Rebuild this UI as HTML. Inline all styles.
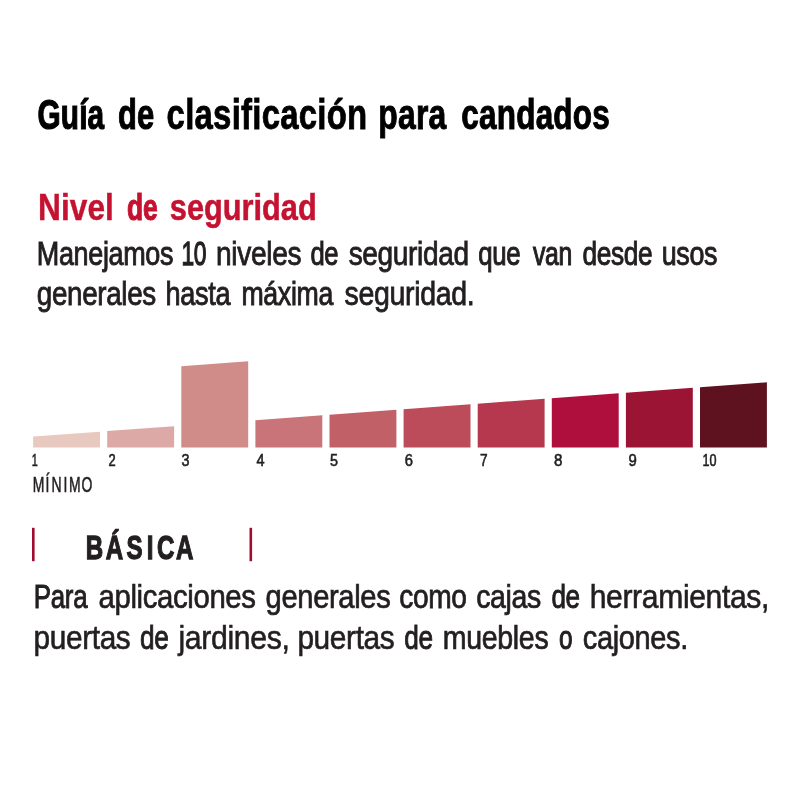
<!DOCTYPE html>
<html lang="es">
<head>
<meta charset="utf-8">
<title>Guía de clasificación para candados</title>
<style>
html,body{margin:0;padding:0;background:#fff;}
body{width:800px;height:800px;overflow:hidden;}
svg{display:block;}
text{font-family:"Liberation Sans",sans-serif;}
.title{letter-spacing:0.3px;font-weight:bold;font-size:42px;fill:#000;stroke:#000;}
.head{letter-spacing:0.0px;font-weight:bold;font-size:37.5px;fill:#C41230;stroke:#C41230;}
.body{letter-spacing:-0.4px;font-size:33px;fill:#231f20;stroke:#231f20;}
.num{font-size:16px;fill:#231f20;stroke:#231f20;stroke-width:0.6px;}
.min{font-size:22.5px;fill:#231f20;stroke:#231f20;stroke-width:0.5px;}
.lvl{font-weight:bold;font-size:34px;fill:#231f20;stroke:#231f20;stroke-width:1.1px;}
.para{letter-spacing:-0.4px;font-size:33px;fill:#231f20;stroke:#231f20;}
</style>
</head>
<body>
<svg width="800" height="800" viewBox="0 0 800 800">
<rect width="800" height="800" fill="#ffffff"/>
<g>
<polygon points="33.1,447.4 33.1,436.60 100.0,431.65 100.0,447.4" fill="#E8C9C0"/>
<polygon points="107.2,447.4 107.2,431.12 174.1,426.17 174.1,447.4" fill="#DDA9A6"/>
<polygon points="181.3,447.4 181.3,366.13 248.2,361.18 248.2,447.4" fill="#D08C88"/>
<polygon points="255.4,447.4 255.4,420.15 322.3,415.20 322.3,447.4" fill="#C87478"/>
<polygon points="329.5,447.4 329.5,414.67 396.4,409.72 396.4,447.4" fill="#C26068"/>
<polygon points="403.6,447.4 403.6,409.18 470.5,404.23 470.5,447.4" fill="#BC4C5A"/>
<polygon points="477.7,447.4 477.7,403.70 544.6,398.75 544.6,447.4" fill="#B5384E"/>
<polygon points="551.8,447.4 551.8,398.22 618.7,393.27 618.7,447.4" fill="#AE0F3D"/>
<polygon points="625.9,447.4 625.9,392.73 692.8,387.78 692.8,447.4" fill="#9B1434"/>
<polygon points="700.0,447.4 700.0,387.25 766.9,382.30 766.9,447.4" fill="#5E1220"/>
</g>
<g>
<text class="num" x="31.73" y="466.3" textLength="6.00" lengthAdjust="spacingAndGlyphs">1</text>
<text class="num" x="108.40" y="466.3" textLength="7.20" lengthAdjust="spacingAndGlyphs">2</text>
<text class="num" x="181.45" y="466.3" textLength="7.98" lengthAdjust="spacingAndGlyphs">3</text>
<text class="num" x="256.57" y="466.3" textLength="8.06" lengthAdjust="spacingAndGlyphs">4</text>
<text class="num" x="329.93" y="466.3" textLength="7.98" lengthAdjust="spacingAndGlyphs">5</text>
<text class="num" x="404.65" y="466.3" textLength="8.20" lengthAdjust="spacingAndGlyphs">6</text>
<text class="num" x="480.10" y="466.3" textLength="7.59" lengthAdjust="spacingAndGlyphs">7</text>
<text class="num" x="553.94" y="466.3" textLength="8.42" lengthAdjust="spacingAndGlyphs">8</text>
<text class="num" x="628.60" y="466.3" textLength="8.31" lengthAdjust="spacingAndGlyphs">9</text>
<text class="num" x="702.44" y="466.3" textLength="14.00" lengthAdjust="spacingAndGlyphs">10</text>
</g>
<g transform="scale(0.62 1)"><text class="min" x="52.73 73.53 83.00 102.28 111.19 131.34" y="492.5" vector-effect="non-scaling-stroke">MÍNIMO</text></g>
<rect x="32.0" y="527.8" width="2.6" height="33.4" fill="#A00D2E"/>
<rect x="249.5" y="527.8" width="2.6" height="33.4" fill="#A00D2E"/>
<g>
<text class="title" x="37.39" y="128.5" textLength="67.02" lengthAdjust="spacingAndGlyphs" stroke-width="1.22">Guía</text>
<text class="title" x="118.02" y="128.5" textLength="36.47" lengthAdjust="spacingAndGlyphs" stroke-width="1.07">de</text>
<text class="title" x="166.61" y="128.5" textLength="200.88" lengthAdjust="spacingAndGlyphs" stroke-width="0.79">clasificación</text>
<text class="title" x="378.37" y="128.5" textLength="68.19" lengthAdjust="spacingAndGlyphs" stroke-width="0.94">para</text>
<text class="title" x="461.26" y="128.5" textLength="148.76" lengthAdjust="spacingAndGlyphs" stroke-width="0.99">candados</text>
<text class="head" x="38.08" y="220" textLength="75.76" lengthAdjust="spacingAndGlyphs" stroke-width="0.41">Nivel</text>
<text class="head" x="126.98" y="220" textLength="30.86" lengthAdjust="spacingAndGlyphs" stroke-width="1.13">de</text>
<text class="head" x="169.79" y="220" textLength="146.97" lengthAdjust="spacingAndGlyphs" stroke-width="0.54">seguridad</text>
<text class="body" x="36.75" y="265" textLength="136.43" lengthAdjust="spacingAndGlyphs" stroke-width="0.93">Manejamos</text>
<text class="body" x="181.41" y="265" textLength="24.81" lengthAdjust="spacingAndGlyphs" stroke-width="1.29">10</text>
<text class="body" x="216.04" y="265" textLength="85.22" lengthAdjust="spacingAndGlyphs" stroke-width="0.82">niveles</text>
<text class="body" x="310.45" y="265" textLength="27.86" lengthAdjust="spacingAndGlyphs" stroke-width="1.05">de</text>
<text class="body" x="348.63" y="265" textLength="120.17" lengthAdjust="spacingAndGlyphs" stroke-width="0.83">seguridad</text>
<text class="body" x="478.18" y="265" textLength="42.14" lengthAdjust="spacingAndGlyphs" stroke-width="1.03">que</text>
<text class="body" x="532.98" y="265" textLength="39.02" lengthAdjust="spacingAndGlyphs" stroke-width="1.12">van</text>
<text class="body" x="582.39" y="265" textLength="69.96" lengthAdjust="spacingAndGlyphs" stroke-width="0.99">desde</text>
<text class="body" x="661.72" y="265" textLength="55.45" lengthAdjust="spacingAndGlyphs" stroke-width="0.94">usos</text>
<text class="body" x="36.76" y="305" textLength="119.08" lengthAdjust="spacingAndGlyphs" stroke-width="0.85">generales</text>
<text class="body" x="165.58" y="305" textLength="64.63" lengthAdjust="spacingAndGlyphs" stroke-width="0.92">hasta</text>
<text class="body" x="241.45" y="305" textLength="91.50" lengthAdjust="spacingAndGlyphs" stroke-width="0.95">máxima</text>
<text class="body" x="344.60" y="305" textLength="129.76" lengthAdjust="spacingAndGlyphs" stroke-width="0.79">seguridad.</text>
<g transform="scale(0.71 1)"><text class="lvl" x="120.63 149.02 178.10 206.72 221.12 247.78" y="558.8" vector-effect="non-scaling-stroke">BÁSICA</text></g>
<text class="para" x="33.87" y="607.7" textLength="53.33" lengthAdjust="spacingAndGlyphs" stroke-width="0.98">Para</text>
<text class="para" x="98.49" y="607.7" textLength="157.13" lengthAdjust="spacingAndGlyphs" stroke-width="0.67">aplicaciones</text>
<text class="para" x="265.62" y="607.7" textLength="124.74" lengthAdjust="spacingAndGlyphs" stroke-width="0.69">generales</text>
<text class="para" x="399.19" y="607.7" textLength="67.52" lengthAdjust="spacingAndGlyphs" stroke-width="0.77">como</text>
<text class="para" x="476.16" y="607.7" textLength="64.75" lengthAdjust="spacingAndGlyphs" stroke-width="0.74">cajas</text>
<text class="para" x="551.38" y="607.7" textLength="28.38" lengthAdjust="spacingAndGlyphs" stroke-width="0.95">de</text>
<text class="para" x="589.71" y="607.7" textLength="179.33" lengthAdjust="spacingAndGlyphs" stroke-width="0.60">herramientas,</text>
<text class="para" x="33.60" y="648.9" textLength="96.81" lengthAdjust="spacingAndGlyphs" stroke-width="0.63">puertas</text>
<text class="para" x="139.97" y="648.9" textLength="28.50" lengthAdjust="spacingAndGlyphs" stroke-width="0.94">de</text>
<text class="para" x="178.53" y="648.9" textLength="111.02" lengthAdjust="spacingAndGlyphs" stroke-width="0.59">jardines,</text>
<text class="para" x="297.39" y="648.9" textLength="97.02" lengthAdjust="spacingAndGlyphs" stroke-width="0.62">puertas</text>
<text class="para" x="404.37" y="648.9" textLength="28.50" lengthAdjust="spacingAndGlyphs" stroke-width="0.94">de</text>
<text class="para" x="442.87" y="648.9" textLength="105.44" lengthAdjust="spacingAndGlyphs" stroke-width="0.74">muebles</text>
<text class="para" x="558.93" y="648.9" textLength="13.24" lengthAdjust="spacingAndGlyphs" stroke-width="1.11">o</text>
<text class="para" x="582.87" y="648.9" textLength="105.07" lengthAdjust="spacingAndGlyphs" stroke-width="0.70">cajones.</text>
</g>
</svg>
</body>
</html>
